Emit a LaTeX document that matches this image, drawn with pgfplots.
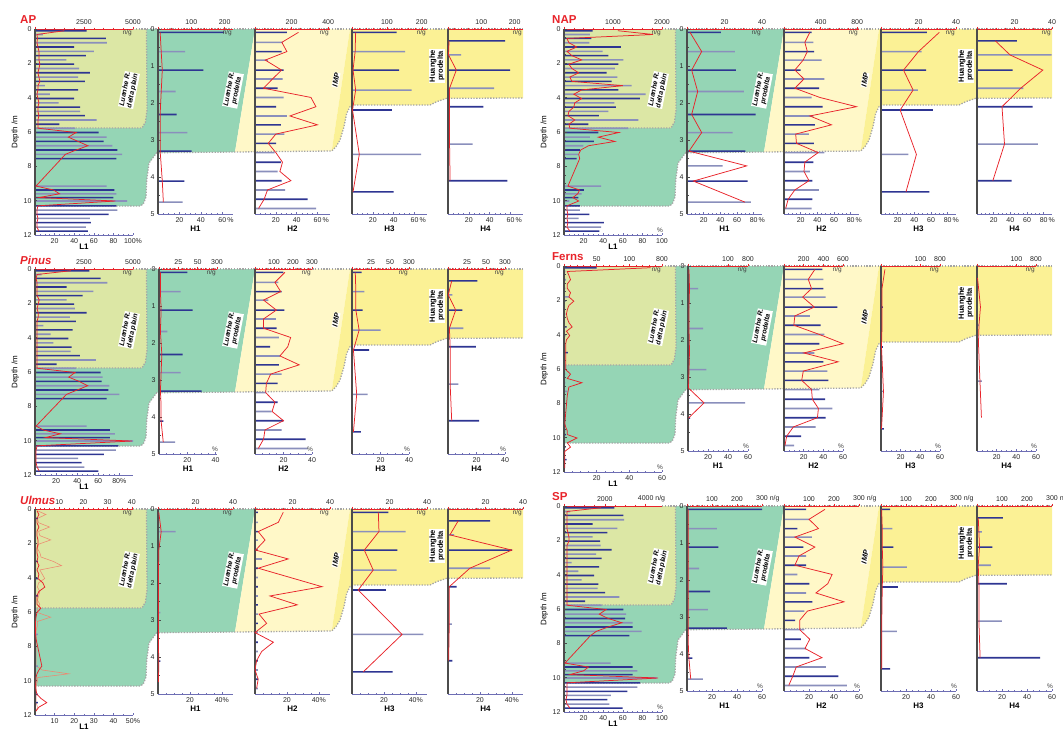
\documentclass[border=0pt]{standalone}
\usepackage{fontspec}
\setmainfont{Liberation Sans}
\usepackage{pgfplots}
\usepackage{pgfplotstable}
\pgfplotsset{compat=1.18}

\definecolor{cDP}{HTML}{DCE7A5}
\definecolor{cPD}{HTML}{95D5B5}
\definecolor{cIMP}{HTML}{FFF8C8}
\definecolor{cHP}{HTML}{FBF195}
\definecolor{cNavy}{HTML}{2E3592}
\definecolor{cSlate}{HTML}{8A8FBC}
\definecolor{cRed}{HTML}{E8232A}
\definecolor{cAxB}{HTML}{6E6EB4}
\definecolor{cDot}{HTML}{A5A5A5}
\definecolor{cOr}{HTML}{EE8870}

% L1 core: depth, then n/g and % for AP(a) NAP(n) Pinus(p) Ferns(f) Ulmus(u) SP(s)
\pgfplotstableread{
d an ap nn np pn pp fn fp un up ul sn sp
0.10 2640 30 585 55 2770 34 50 53 0 1 1 2466 38
0.32 400 2 530 91 340 2 2 2 0 2 4.5 300 3
0.55 3620 2.5 560 3 3350 1 1 3 1.2 1 1 2907 3
0.80 3670 2 517 5 3690 2 3 4 0 1 1.5 2940 3
1.05 2000 3 1163 13 1616 2 1 2 0 2 6 1405 3
1.30 3000 4 789 3 2975 2 2 2 0 1 1.5 2613 3
1.55 2600 4 904 8 2430 2 1 4 0 1 2 2123 4
1.80 1600 4 1210 18 1616 4 8 3 0 1.5 6.5 1405 5
2.05 2000 5 1108 5 1990 3 2 6 0 1.5 1.5 1764 5
2.30 2250 4 1040 8 2040 2 1 3 0 1 1 1797 3
2.55 2800 3 870 15 2635 3 1 2 0 1 2 2336 3
2.80 2200 4 1088 6 1785 3 2 1.5 0 1.5 2.5 1568 3
3.05 2550 5 972 8 2090 2 1 2 1.2 1 7.5 1846 3
3.30 500 3 1380 60 425 2 1 3 0 2 11 376 3
3.55 2200 3 1108 18 1920 2 4 5 0 1 2 1715 3
3.80 760 2 1666 10 800 2 1 1.5 0 2 3 702 3
4.05 2000 3 1550 18 1700 2 2 3.5 1.2 1.5 4 1470 3
4.30 1200 4 1027 11 935 2 1 1.5 0 4 1.5 866 3
4.55 2300 3 1060 10 1870 2 1 1 0 5 1 1682 3
4.80 2300 3 904 5 1820 2 1 1 0 2 2 1650 3
5.05 2550 4 714 4 2295 2 6 1 1.2 1 1.5 2009 3
5.30 3150 3 1517 11 3110 2 1 1 0 1 1 2711 3
5.55 1250 3 496 5 1105 2 1 1 0 1 2 1029 3
5.78 2050 3 1312 6 2090 2 1 1 0 3 1 1846 3
6.03 3250 42 700 56 3350 38 1 1 0 1 1 2907 43
6.30 3650 34 530 35 3450 32 2 4 0 0.5 6.5 3038 36
6.55 3500 44 612 52 3400 42 1 2 0 0.3 1 2989 45
6.80 3950 54 394 25 3790 50 2 11 0 0.3 1 3365 59
7.05 4200 42 326 17 3740 40 1 3 0 0.3 0.5 3365 45
7.30 4450 31 292 15 4300 30 5 2.5 1.2 0.3 0.5 3806 33
7.55 4150 27 258 16 3655 26 1 2 0 0.5 0.5 3201 27
9.15 3650 1 755 4 2635 1 1 0.5 1.2 3.5 0.5 2287 1
9.38 4050 19 408 16 3825 8 1 1 0 2 3 3365 25
9.60 4150 25 360 14 4080 24 2 2 0 1 14 3594 20
9.82 4000 4 292 9 3825 10 3 2 0 0.5 1 3365 6
10.02 4700 82 109 15 5000 92 1 8 0 0.5 1 4541 96
10.30 4150 3 326 3 4250 2 1 2 0 0.3 0.5 3724 3
10.55 4200 2 326 3 4130 1 3 4 0 0.5 0.5 3594 3
10.80 3750 2 517 4 3520 1 1 0.5 1.2 1 0.5 3104 3
11.03 2800 3 300 3 2200 1 1 0.5 0 3 0.5 2300 3
11.28 2850 2 816 4 2380 1 4 0.5 1.2 6 0.5 2123 2
11.54 2600 2 755 3 2515 2 1 0.5 0 2 1 2221 3
11.77 2700 4 721 6 3230 4 1 0.5 0 0.5 0.5 2874 6
}\tL

\pgfplotstableread{
d an ap nn np pn pp fn fp un up sn sp
0.09 198 2 18.1 3.6 36.6 1 0 1 0 0.5 300 1
0.61 81 3 25.5 17.6 28 1 10 1.5 9.4 2 119 1
1.11 136 4 26 5.6 43.6 1.5 1 1 0 0.5 125 1
1.69 53 3 30.3 12.8 10.7 1 15 1 0 0.3 48 1
2.31 56 2 36.6 5.6 30.6 2 1 1.5 0 0.3 92 1
2.80 88 2 24.3 17.6 28 1.5 18.4 1 1.2 0.3 83 1
3.30 101 2 31.1 2.4 55.2 1 0 0.5 0 0.3 159 1
3.70 0 3 19 71.6 0 1.5 57 16 0 0.3 0 1
4.11 79 4 32.3 7.6 5.6 1.5 2 0.5 1.2 0.5 21 1.5
4.68 74 5 34 69.6 20.7 3 0 nan 0 0.3 63 3
}\tHa

\pgfplotstableread{
d an ap nn np pn pp fn fp un up sn sp
0.09 174 41.8 302 31 149 21 390 31.5 1.5 17.7 88 32.8
0.36 151 25.8 320 25 123 14 400 24.7 1.5 14.6 101 20
0.61 146 30.6 330 28 140 18 400 28 1.5 2 53 27.6
0.84 71 9.8 411 23 70 6 424 19 1.5 6.3 111 8.7
1.11 156 25.5 182 13 154 15 542 30.8 1.5 0.4 77 24.7
1.35 151 16.8 440 24 110 6 264 11 3.6 20.8 88 12
1.60 124 8.2 385 13 114 6 373 10 1.5 2 88 8.7
1.85 156 53.7 302 43 126 25 410 36 1.5 22 53 38.5
2.10 116 58.5 422 87 79 23 359 60 1.5 42 101 35
2.35 174 33.5 320 31 131 17.5 308 20 1.5 9.4 88 25.5
2.59 142 60 338 57 126 31 400 55 1.5 26.5 113 48
2.84 160 20 272 14 140 11 440 19.6 1.5 2.5 81 18.7
3.09 116 12.7 327 15 119 8 451 18 1.5 7.3 44 12.5
3.34 107 20 440 41 58 7.5 359 28 1.5 0 81 12.5
3.60 142 26.4 320 25 119 14 417 28.8 1.5 11.5 67 20.6
3.85 124 23.9 283 24 88 12 491 35 1.5 4.2 88 16.8
4.10 146 34.5 309 30 149 20 424 34 1.5 1 101 30.4
4.35 164 12 382 13 140 7 322 9.5 1.5 0 167 9.8
4.60 288 8.8 309 5 266 6 173 2.7 1.5 2 217 7
4.85 334 3.4 302 2 277 2.3 102 1 1.5 1 251 3.8
}\tHb

\pgfplotstableread{
d an ap nn np pn pp fn fp un up sn sp
0.09 128 3.5 24.4 70 12.8 2.3 0 4 19.4 16.5 36 0.5
0.61 152 3 21.7 45 16.2 2.7 0 1 28.6 16.9 45 1
1.11 135 1 24 27 14 2.7 2 1 24.2 7.7 49 1
1.65 171 3.5 19.6 38.5 37.8 5 0 1 23.8 13.3 103 1.5
2.19 114 0.5 27.6 23 22.4 1 2 0.5 18.1 3.9 67 1
3.39 198 7 14.6 42.5 20.6 3.3 2 2.5 38 31.4 63 0.5
4.40 119 1 25.8 30 11.8 1 3 0.5 21.7 7.1 36 0.5
}\tHc

\pgfplotstableread{
d an ap nn np pn pp fn fp un up sn sp
0.32 171 1 21.2 22 38.6 2.6 1 0.5 22.4 6.4 103 1
0.70 39 0.5 39.8 39.6 5.7 0.2 1 2 3.2 1.2 19 1.5
1.11 186 8 19 79 18.8 5.4 1 3.5 34 40 61 2
1.60 138 1.5 24.7 52.5 20.2 1 2 2 22.4 13.7 55 1
2.10 106 1.5 29.7 30 36.8 1.5 1 1.5 4.6 0.8 119 1.5
3.11 74 1.5 32.4 33 13.6 1.5 5 3 2 0.8 99 1.5
4.10 178 2 18.5 19 40.8 2.6 1 4.5 2.3 0.4 252 2.5
}\tHd

\tikzset{
  dotl/.style={cDot, line width=1.3pt, dash pattern=on 1.3pt off 1.5pt},
  lab/.style={fill=white, inner sep=0.6pt, align=center,
    font=\bfseries\itshape\fontsize{7}{7.6}\selectfont},
}

\pgfplotsset{
  base/.style={scale only axis, anchor=north west, xmin=0, clip=false,
    major tick length=2.5pt, minor tick length=1.5pt,
    font=\fontsize{7}{8}\selectfont,
    tick label style={font=\fontsize{7}{8}\selectfont, text=black!85}},
  ngax/.style={base, axis x line*=top, axis y line=none, tick align=outside,
    x axis line style={cRed, line width=0.6pt},
    xtick style={cRed, line width=0.5pt},
    xticklabel style={inner sep=1.5pt}},
  pctax/.style={base, axis x line*=bottom, axis y line*=left, tick align=inside,
    x axis line style={cAxB, line width=0.9pt},
    y axis line style={black!70, line width=1.1pt},
    xtick style={cAxB, line width=0.5pt},
    ytick style={black!70, line width=0.6pt},
    unbounded coords=jump,
    xlabel style={font=\bfseries\fontsize{8}{9}\selectfont, inner sep=1pt},
    ylabel style={font=\fontsize{8}{9}\selectfont, inner sep=1pt}},
  szL/.style={height=206pt, ymin=-12, ymax=0},
  szH1/.style={height=185pt, ymin=-5, ymax=0},
  szH/.style={height=185pt, ymin=-5, ymax=0},
  ytL/.style={ytick={-12,-10,...,0}, yticklabels={12,10,8,6,4,2,0},
    minor y tick num=3, ylabel={Depth /m}, xlabel style={yshift=4pt}},
  ytH1/.style={ytick={-5,-4,...,0}, yticklabels={5,4,3,2,1,0}, minor y tick num=1,
    xlabel style={yshift=1.5pt}},
  ytH/.style={ytick=\empty, xlabel style={yshift=1.5pt}},
  ngnote/.style={after end axis/.append code={\node[anchor=north east, inner sep=1pt,
    font=\fontsize{6.5}{7}\selectfont, text=black!75] at (rel axis cs:1,1) {n/g};}},
  pctnote/.style={after end axis/.append code={\node[anchor=south, inner sep=1pt,
    xshift=-2pt, yshift=1pt, font=\fontsize{6.5}{7}\selectfont, text=black!75]
    at (rel axis cs:1,0) {\%};}},
  pA/.style={xmax=#1, xtick={0,20,40,60}, xticklabels={,20,40,60\rlap{\,\%}}, minor x tick num=3},
  pN/.style={xmax=90, xtick={0,20,40,60,80}, xticklabels={,20,40,60,80\rlap{\,\%}}, minor x tick num=3},
  pP/.style={xmax=#1, xtick={0,20,40}, xticklabels={,20,40}, minor x tick num=3, pctnote},
  pF/.style={xmax=60, xtick={0,20,40,60}, xticklabels={,20,40,60}, minor x tick num=3, pctnote},
  pU/.style={xmax=47, xtick={0,20,40}, xticklabels={,20,40\%}, minor x tick num=3},
  nP/.style={xmax=75, xtick={0,25,50,75}, xticklabels={,25,50,300}, minor x tick num=4, ngnote},
  nF/.style={xmax=60, xtick={0,40,60}, xticklabels={,100,800}, ngnote},
  nS/.style={xmax=300, xtick={0,100,200,300}, xticklabels={,100,200,300\rlap{ n/g}}, minor x tick num=4},
  n40/.style={xmax=40, xtick={0,20,40}, xticklabels={,20,40}, minor x tick num=3, ngnote},
  bgax/.style={scale only axis, anchor=north west, width=530pt, height=240pt,
    xmin=0, xmax=530, ymin=-240, ymax=0, hide axis, clip=false},
}

% background shading of one panel: #1 title, #2 title x
\newcommand\panelbg[2]{%
\begin{axis}[bgax, at={(\ox pt,-\oy pt)}]
\addplot[draw=none, fill=cPD] coordinates {(35,-29)(255,-29)(235,-152)(156.7,-152.7)(149,-163)(146.7,-180)(146,-197)(143.3,-204)(140,-206)(35,-206)};
\addplot[draw=none, fill=cDP] coordinates {(35,-29)(146.5,-29)(147,-110)(145.5,-122)(142,-128)(35,-128)};
\addplot[draw=none, fill=cIMP] coordinates {(255,-29)(350,-29)(331.7,-151)(235,-152)};
\addplot[draw=none, fill=cHP] coordinates {(350,-29)(523,-29)(523,-98)(446.7,-98.3)(436.7,-101.7)(430,-105)(353.3,-105)(350,-106.7)(346.7,-113.3)(344,-126.7)(340,-140)(336,-146.7)(331.7,-151)};
\addplot[dotl] coordinates {(133,-29)(523,-29)};
\addplot[dotl] coordinates {(146.5,-29)(147,-110)(145.5,-122)(142,-128)(35,-128)};
\addplot[dotl] coordinates {(35,-206)(140,-206)(143.3,-204)(146,-197)(146.7,-180)(149,-163)(156.7,-152.7)(235,-152)(331.7,-151)(336,-146.7)(340,-140)(344,-126.7)(346.7,-113.3)(350,-106.7)(353.3,-105)(430,-105)(436.7,-101.7)(446.7,-98.3)(523,-98)};
\node[lab, rotate=79] at (axis cs:129,-90) {Luanhe R.\\delta plain};
\node[lab, rotate=79] at (axis cs:233,-90) {Luanhe R.\\prodelta};
\node[lab, rotate=79, font=\bfseries\itshape\fontsize{7.5}{8}\selectfont] at (axis cs:336,-80) {IMP};
\node[lab, rotate=90, font=\bfseries\fontsize{7.5}{8}\selectfont] at (axis cs:437,-66) {Huanghe\\prodelta};
\node[anchor=west, inner sep=0pt, text=cRed, font=\bfseries\fontsize{11.5}{12}\selectfont] at (axis cs:#2,-20) {#1};
\end{axis}}

% one core: #1 x, #2 width, #3 type (L,H1,H), #4 table, #5 series prefix, #6 n/g opts, #7 % opts, #8 label
\newcommand\core[8]{%
\begin{axis}[ngax, sz#3, at={({\ox pt+#1pt},{-\oy pt-29pt})}, width=#2pt, #6]
\addplot[xbar, bar width=1.6pt, bar shift=0pt, draw=none, fill=cNavy, filter discard warning=false,
  x filter/.code={\ifodd\coordindex\def\pgfmathresult{}\fi}]
  table[x=#5n, y expr=-\thisrow{d}]{#4};
\addplot[xbar, bar width=1.6pt, bar shift=0pt, draw=none, fill=cSlate, filter discard warning=false,
  x filter/.code={\ifodd\coordindex\else\def\pgfmathresult{}\fi}]
  table[x=#5n, y expr=-\thisrow{d}]{#4};
\end{axis}
\begin{axis}[pctax, sz#3, yt#3, at={({\ox pt+#1pt},{-\oy pt-29pt})}, width=#2pt, xlabel={#8}, #7]
\addplot[cRed, line width=0.75pt] table[x=#5p, y expr=-\thisrow{d}]{#4};
\end{axis}}

\begin{document}
\begin{tikzpicture}
\useasboundingbox (0,0) rectangle (1063pt,-731pt);
% ---------------- AP
\def\ox{0}\def\oy{0}
\panelbg{AP}{20}
\core{35}{98}{L}{\tL}{a}{xmax=5000,xtick={0,2500,5000},xticklabels={,2500,5000},minor x tick num=4,ngnote}{xmax=100,xtick={0,20,40,60,80,100},xticklabels={,20,40,60,80,100\%},minor x tick num=3}{L1}
\core{158}{75}{H1}{\tHa}{a}{xmax=225,xtick={0,100,200},xticklabels={,100,200},minor x tick num=4,ngnote}{pA=70}{H1}
\core{255}{75}{H}{\tHb}{a}{xmax=410,xtick={0,200,400},xticklabels={,200,400},minor x tick num=3,ngnote}{pA=72}{H2}
\core{352}{75}{H}{\tHc}{a}{xmax=215,xtick={0,100,200},xticklabels={,100,200},minor x tick num=4,ngnote}{pA=72}{H3}
\core{448}{75}{H}{\tHd}{a}{xmax=225,xtick={0,100,200},xticklabels={,100,200},minor x tick num=4,ngnote}{pA=72}{H4}
% ---------------- NAP
\def\ox{529}\def\oy{0}
\panelbg{NAP}{23}
\core{35}{98}{L}{\tL}{n}{xmax=2000,xtick={0,1000,2000},xticklabels={,1000,2000},minor x tick num=4,ngnote}{xmax=100,xtick={0,20,40,60,80,100},xticklabels={,20,40,60,80,100},minor x tick num=3,pctnote}{L1}
\core{158}{75}{H1}{\tHa}{n}{n40}{pN}{H1}
\core{255}{75}{H}{\tHb}{n}{xmax=820,xtick={0,400,800},xticklabels={,400,800},minor x tick num=3,ngnote}{pN}{H2}
\core{352}{75}{H}{\tHc}{n}{n40}{pN}{H3}
\core{448}{75}{H}{\tHd}{n}{n40}{pN}{H4}
% ---------------- Pinus
\def\ox{0}\def\oy{240}
\panelbg{\itshape Pinus}{20}
\core{35}{98}{L}{\tL}{p}{xmax=5000,xtick={0,2500,5000},xticklabels={,2500,5000},minor x tick num=4,ngnote}{xmax=93,xtick={0,20,40,60,80},xticklabels={,20,40,60,80\%},minor x tick num=3}{L1}
\core{159}{58}{H1}{\tHa}{p}{nP}{pP=41}{H1}
\core{255}{57}{H}{\tHb}{p}{xmax=300,xtick={0,100,200,300},xticklabels={,100,200,300},minor x tick num=4,ngnote}{pP=40}{H2}
\core{352}{57}{H}{\tHc}{p}{nP}{pP=40}{H3}
\core{448}{57}{H}{\tHd}{p}{nP}{pP=40}{H4}
% ---------------- Ferns
\def\ox{529}\def\oy{237}
\panelbg{Ferns}{23}
\core{35}{98}{L}{\tL}{f}{xmax=150,xtick={0,50,100,150},xticklabels={,50,100,800},minor x tick num=4,ngnote}{pF}{L1}
\core{159}{60}{H1}{\tHa}{f}{nF}{pF}{H1}
\core{255}{59}{H}{\tHb}{f}{xmax=600,xtick={0,200,400,600},xticklabels={,200,400,600},minor x tick num=3,ngnote}{pF}{H2}
\core{352}{59}{H}{\tHc}{f}{nF}{pF}{H3}
\core{448}{59}{H}{\tHd}{f}{nF}{pF}{H4}
% ---------------- Ulmus
\def\ox{0}\def\oy{480}
\panelbg{\itshape Ulmus}{20}
\begin{axis}[base, szL, at={(35pt,-509pt)}, width=98pt, xmax=40.5, hide axis]
\addplot[cOr, line width=0.55pt] table[x=ul, y expr=-\thisrow{d}]{\tL};
\end{axis}
\core{35}{98}{L}{\tL}{u}{xmax=40.5,xtick={0,10,20,30,40},xticklabels={,10,20,30,40},minor x tick num=4,ngnote}{xmax=50,xtick={0,10,20,30,40,50},xticklabels={,10,20,30,40,50\%},minor x tick num=1}{L1}
\core{158}{75}{H1}{\tHa}{u}{n40}{pU}{H1}
\core{255}{75}{H}{\tHb}{u}{n40}{pU}{H2}
\core{352}{75}{H}{\tHc}{u}{n40}{pU}{H3}
\core{448}{75}{H}{\tHd}{u}{n40}{pU}{H4}
% ---------------- SP
\def\ox{529}\def\oy{477}
\panelbg{SP}{23}
\core{35}{98}{L}{\tL}{s}{xmax=4800,xtick={0,2000,4000},xticklabels={,2000,4000\rlap{ n/g}},minor x tick num=3}{xmax=100,xtick={0,20,40,60,80,100},xticklabels={,20,40,60,80,100},minor x tick num=3,pctnote}{L1}
\core{158}{75}{H1}{\tHa}{s}{nS}{pF}{H1}
\core{255}{75}{H}{\tHb}{s}{nS}{pF}{H2}
\core{352}{75}{H}{\tHc}{s}{nS}{pF}{H3}
\core{448}{75}{H}{\tHd}{s}{nS}{pF}{H4}
\end{tikzpicture}
\end{document}
